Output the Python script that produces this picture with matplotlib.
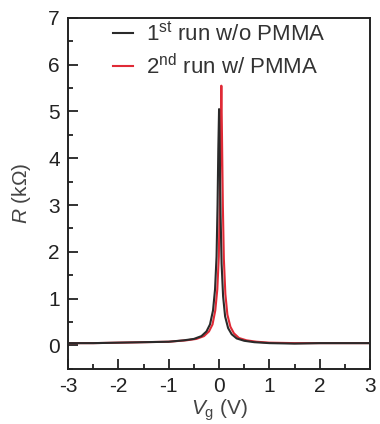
import matplotlib
matplotlib.use("Agg")
import matplotlib.pyplot as plt
from matplotlib.ticker import MultipleLocator

plt.rcParams['font.family'] = ['Liberation Sans', 'DejaVu Sans']
plt.rcParams['mathtext.fontset'] = 'custom'
plt.rcParams['mathtext.rm'] = 'Liberation Sans'
plt.rcParams['mathtext.it'] = 'Liberation Sans:italic'

# 1st run, without PMMA (black)
vg_run1 = [-3.0, -2.5, -2.0, -1.5, -1.0, -0.7, -0.5, -0.35, -0.25, -0.18, -0.12,
           -0.08, -0.05, -0.03, -0.015, 0.0, 0.015, 0.03, 0.05, 0.08, 0.12, 0.18,
           0.25, 0.35, 0.5, 0.7, 1.0, 1.5, 2.0, 2.5, 3.0]
r_run1 = [0.05, 0.05, 0.06, 0.07, 0.08, 0.11, 0.14, 0.2, 0.3, 0.45, 0.75,
          1.2, 1.9, 3.0, 4.2, 5.05, 4.0, 2.8, 1.75, 1.05, 0.62, 0.37,
          0.24, 0.15, 0.1, 0.07, 0.05, 0.04, 0.05, 0.05, 0.05]

# 2nd run, with PMMA (red)
vg_run2 = [-3.0, -2.5, -2.0, -1.5, -1.0, -0.65, -0.45, -0.3, -0.2, -0.13, -0.075,
           -0.035, -0.005, 0.015, 0.03, 0.045, 0.06, 0.075, 0.095, 0.125, 0.165, 0.225,
           0.295, 0.395, 0.545, 0.745, 1.0, 1.5, 2.0, 2.5, 3.0]
r_run2 = [0.05, 0.05, 0.06, 0.07, 0.08, 0.11, 0.14, 0.2, 0.3, 0.45, 0.75,
          1.2, 1.9, 3.1, 4.4, 5.55, 4.3, 3.0, 1.85, 1.1, 0.66, 0.4,
          0.26, 0.16, 0.11, 0.08, 0.06, 0.05, 0.05, 0.05, 0.05]

fig = plt.figure(figsize=(3.8, 4.24), dpi=100)
ax = fig.add_axes([0.179, 0.130, 0.795, 0.828])

ax.plot(vg_run2, r_run2, color='#e02a36', lw=1.5, label=r'2$^{\rm nd}$ run w/ PMMA', zorder=2)
ax.plot(vg_run1, r_run1, color='#2a2a2a', lw=1.5, label=r'1$^{\rm st}$ run w/o PMMA', zorder=3)

ax.set_xlim(-3, 3)
ax.set_ylim(-0.5, 7)
ax.set_xticks(range(-3, 4))
ax.set_xticklabels(['-3', '-2', '-1', '0', '1', '2', '3'])
ax.xaxis.set_minor_locator(MultipleLocator(0.5))
ax.yaxis.set_major_locator(MultipleLocator(1))
ax.yaxis.set_minor_locator(MultipleLocator(0.5))
ax.tick_params(which='both', direction='in', top=False, right=False,
               labelsize=15, width=1.3, colors='#222222', pad=6)
ax.tick_params(which='major', length=7.5)
ax.tick_params(which='minor', length=3.8)
for s in ax.spines.values():
    s.set_linewidth(1.4)
    s.set_color('#222222')

ax.set_xlabel(r'$V_{\rm g}$ (V)', fontsize=15, color='#444444', labelpad=1)
ax.set_ylabel(r'$R$ (k$\Omega$)', fontsize=15, color='#444444', labelpad=11)

handles, labels = ax.get_legend_handles_labels()
ax.legend(handles[::-1], labels[::-1], loc='upper center', frameon=False,
          fontsize=16, handlelength=0.9, handletextpad=0.6, labelspacing=0.35,
          bbox_to_anchor=(0.50, 1.045), labelcolor='#333333')

fig.savefig('out.png', dpi=100)
